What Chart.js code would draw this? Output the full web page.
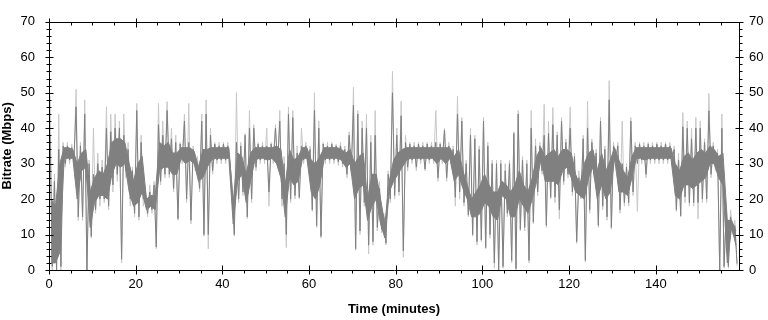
<!DOCTYPE html>
<html>
<head>
<meta charset="utf-8">
<script src="https://cdn.jsdelivr.net/npm/chart.js@4"></script>
<style>
  html, body { margin: 0; padding: 0; background: #fff; }
  canvas { display: block; }
</style>
</head>
<body>
<canvas id="bitrateChart" width="768" height="320"></canvas>
<script>
// one bin per minute
// dense core of the trace
const bodyHi = [20,18,30,34.5,34.5,34,30,33,34,22, 26,28,27,30,36,37,37,36,30,25,
  30,32,20,21,21,36,35,36,33,33, 34.5,34.5,34.5,33.5,29,34,34,34.5,34.5,34.5,
  34.5,34.5,19,33,32,27,33,34.5,34.5,34.5, 34.5,34.5,35,34,24,34,31,32,34.5,34.5,
  31,30,32,34.5,34.5,34.5,34.5,34,33,34, 30,32,33,20,27,27,20,13,25,31,
  33,34,34.5,34.5,34.5,34.5,34.5,34.5,34.5,34.5, 34.5,34.5,34.5,32,34,28,24,20,22,24,
  27,24,22,22,25,24,22,24,28,24, 22,26,32,34.5,32,33,34,32,34,34,
  33,27,24,30,33,34,28,33,28,31, 34.5,31,28,26,32,34.5,34.5,34.5,34.5,34.5,
  34.5,34.5,34.5,34.5,30,28,32,33,31,33, 34,33,35,34,32,33,14,14,11];
const bodyLo = [2,2,5,31.5,31.5,31.5,20,28,29,12, 19,21,21,20,27,30,29,30,22,18,
  19,22,17,18,17,28,29,29,27,27, 31.5,30,31,30,25,26,29,31,31.5,31.5,
  31.5,31.5,13,25,27,19,25,31,31.5,31.5, 31,31.5,30,26,15,26,24,25,31.5,31.5,
  22,20,24,31.5,31.5,31.5,31.5,31,29,30, 20,23,24,14,18,20,13,9,22,25,
  27,29,31,31.5,31.5,31.5,31.5,31.5,31.5,30, 31.5,30,31.5,25,27,23,20,15,15,16,
  19,18,15,14,21,20,15,15,20,18, 16,20,25,31,25,25,25,24,28,29,
  26,22,21,20,26,29,20,24,20,22, 31.5,22,22,21,26,31.5,31.5,31,31.5,31.5,
  31.5,31.5,31.5,31.5,21,20,24,24,23,24, 25,26,30,30,26,24,2,12,7];
// dark needles: per-minute max / min
const darkHi = [38,25,34,35,35,34.5,46,35,44,30, 27,30,29,40,39,40,40,38,34,28,
  45,36,21,22,24,41,38,45,37,36, 35.5,42,36,34,30,42,44,38,35.5,35, 35.5,35,22,36,35,38,40,40,35.5,35,
  35,35.5,40,42,30,44,43,33,35,35, 34,45,40,35.5,35,35.5,35,35,34,38, 46.5,44,40,40,36,38,23,15,27,50,
  38,43.5,36,35.5,35,35.5,35,35.5,35,36, 35.5,39.5,35,34,44,42,30,38,37,34, 42,35,30,30,30,28,30,38.5,44,31,
  30,40,35,35,38,38.5,41,38,42,36, 40,32,26,37,40,36,33,42,34,48, 35,35,30,29,42,35,35.5,35,35.5,35,
  35.5,35,35.5,35,34,31,40.4,40,37,40, 40,36,44.9,35,33,40,16,15,12.5];
const darkLo = [1,0,1,30,31,31,15,15,0,9.5, 17,20,20,18,24,27,3,28,20,16,
  15,20,16,17,6.5,25,27,27,23,14.5, 31,20,14,29.5,23,10,10,28,31,31, 31,30.5,10,20,22,15,20,29,31,31,
  22,31,30,20,10,20,21,20.5,31,31, 17,12.5,9.5,31,31,31,30.5,30,27,28, 6,11,19,7,8,12,11.5,7.6,20,21,
  22,5.4,29,31,29,31,28.5,31,31,26, 31,26,31,20.5,22,19,15.5,10,8,8.5, 6.3,10,2,0,1,16,2.7,0.4,11.5,12,
  2.7,13.5,22,28,12.6,20.5,20.5,17,25,27, 22,8,20.5,2.7,17,27,12.6,18,15,12, 31,17,19,19,22,30,31,27,31,31,
  31,31,31,31,17,15.3,20.6,19,19,19, 20,20,27,29,0,1,1,11,1.8];
// light envelope
const lightHi = [49,27,44,36,36,35.5,51,36,48,31, 40,33,31,46,44,44,42,44,36,29,
  47,38,22,24,25,47,42,47.5,40,38, 36,44,47,35,32,44,48,40,36,36, 36,36,24,50,36,38.5,45,41,36,36,
  40,36,41,45,32,46,45,35,40,36, 35,50,42,36,36,36,35.5,36,35,39, 51.5,45,42,44,38,45,25,16,28,56,
  40,47.6,38,36,36,36,36,36,36,45, 36,40,36,35,49,43,31,40,38,35, 43,36,31,31,31,30,31,39,45,32,
  31,45,37,36,46.7,42,45.8,39,43,37, 46,33,28,38,47.6,37,34,43,35,53.4, 36,36,42,30,43,36,36,36,36,36,
  36,36,36,36,35,33,44.4,42,40,43, 42,37,49.8,36,34,44,17,17,14];
const lightLo = [0,0,0,29,30,30,14,14,0,9, 16,18,19,17,22,25,2,26,18,15,
  14,18,15,16,6,24,26,26,22,14, 30,19,13,28,22,9.5,6,27,30,30, 30,30,9.5,19,21,14.5,19,28,30,30,
  18,30,29,18,6.3,19,20,20,30,30, 16.5,12,9,30,30,30,29.5,29,26,27, 5.5,10,18,4.5,7,11,10.5,7,19,20,
  21,3.6,28,30,28,30,28,30,30,25, 30,25,30,18,20,18,15,9.5,7,8, 6,9,0.5,0,0.5,15,2,0,11,11,
  2,13,21,27,12,20,19,14.4,24,26, 21,7.5,20,2.2,16,26,12,17,14,11.5, 30,16,18,18,21,16.5,30,26,30,30,
  30,30,30,30,16.5,15,19,18,18,14.4, 19,19,26,28,0,0.5,0.5,10,1];

const xTicks = [0, 20, 40, 60, 80, 100, 120, 140];
const yTicks = [0, 10, 20, 30, 40, 50, 60, 70];
const xMinorStep = 5;
const yMinorStep = 2;
const xMax = 159.2;

// one up/down needle per minute
function needles(hi, lo) {
  const pts = [];
  hi.forEach((h, i) => {
    pts.push({x: i + 0.25, y: h}, {x: i + 0.75, y: lo[i]});
  });
  return pts;
}
const centred = arr => arr.map((v, i) => ({x: i + 0.5, y: v}));

const frameTicks = {
  id: 'frameTicks',
  afterDraw(chart) {
    const {ctx, chartArea: a, scales: {x, y}} = chart;
    const L = Math.round(a.left) + 0.5, R = Math.round(a.right) + 0.5;
    const T = Math.round(a.top) + 0.5, B = Math.round(a.bottom) + 0.5;
    ctx.save();
    ctx.strokeStyle = '#000';
    ctx.lineWidth = 1;
    ctx.beginPath();
    ctx.rect(L, T, R - L, B - T);
    for (let v = 0; v <= 70; v += yMinorStep) {
      const py = Math.round(y.getPixelForValue(v)) + 0.5;
      const major = yTicks.includes(v);
      ctx.moveTo(L - (major ? 4 : 3), py); ctx.lineTo(L + (major ? 4 : 2), py);
      ctx.moveTo(R - (major ? 4 : 0), py); ctx.lineTo(R + (major ? 4 : 3), py);
    }
    for (let v = 0; v <= xMax; v += xMinorStep) {
      const px = Math.round(x.getPixelForValue(v)) + 0.5;
      const major = xTicks.includes(v);
      ctx.moveTo(px, B - (major ? 5 : 0)); ctx.lineTo(px, B + (major ? 4 : 3));
      ctx.moveTo(px, T - (major ? 4 : 0)); ctx.lineTo(px, T + (major ? 5 : 3));
    }
    ctx.stroke();
    ctx.restore();
  }
};

const tickFont = {family: 'Liberation Sans, Arial, sans-serif', size: 13};
const titleFont = {family: 'Liberation Sans, Arial, sans-serif', size: 13, weight: 'bold'};
const trace = {borderWidth: 1, pointRadius: 0, tension: 0};

new Chart(document.getElementById('bitrateChart'), {
  type: 'line',
  data: {
    datasets: [
      {...trace, label: 'peak', data: needles(lightHi, lightLo), borderColor: '#c8c8c8', order: 4},
      {...trace, label: 'needles', data: needles(darkHi, darkLo), borderColor: '#808080', order: 3},
      {...trace, label: 'core hi', data: centred(bodyHi), borderColor: '#808080',
        backgroundColor: '#808080', fill: '+1', order: 2},
      {...trace, label: 'core lo', data: centred(bodyLo), borderColor: '#808080', order: 1}
    ]
  },
  options: {
    responsive: false,
    animation: false,
    events: [],
    layout: {padding: {top: 10, left: 0, right: 0, bottom: 0}},
    plugins: {legend: {display: false}, tooltip: {enabled: false}},
    scales: {
      x: {
        type: 'linear',
        position: 'bottom',
        min: 0,
        max: xMax,
        afterBuildTicks: s => { s.ticks = xTicks.map(v => ({value: v})); },
        afterFit: s => { s.height = 50; },
        grid: {display: false, drawTicks: false},
        border: {display: false},
        ticks: {font: tickFont, color: '#000', padding: 7, maxRotation: 0, autoSkip: false},
        title: {display: true, text: 'Time (minutes)', font: titleFont, color: '#000', padding: {top: 0, bottom: 3}}
      },
      y: {
        position: 'left',
        min: 0,
        max: 70,
        afterBuildTicks: s => { s.ticks = yTicks.map(v => ({value: v})); },
        afterFit: s => { s.width = 49; },
        grid: {display: false, drawTicks: false},
        border: {display: false},
        ticks: {font: tickFont, color: '#000', padding: 14},
        title: {display: true, text: 'Bitrate (Mbps)', font: titleFont, color: '#000', padding: {top: 0, bottom: 0}}
      },
      y2: {
        position: 'right',
        min: 0,
        max: 70,
        afterBuildTicks: s => { s.ticks = yTicks.map(v => ({value: v})); },
        afterFit: s => { s.width = 29; },
        grid: {display: false, drawTicks: false},
        border: {display: false},
        ticks: {font: tickFont, color: '#000', padding: 10}
      }
    }
  },
  plugins: [frameTicks]
});
</script>
</body>
</html>
